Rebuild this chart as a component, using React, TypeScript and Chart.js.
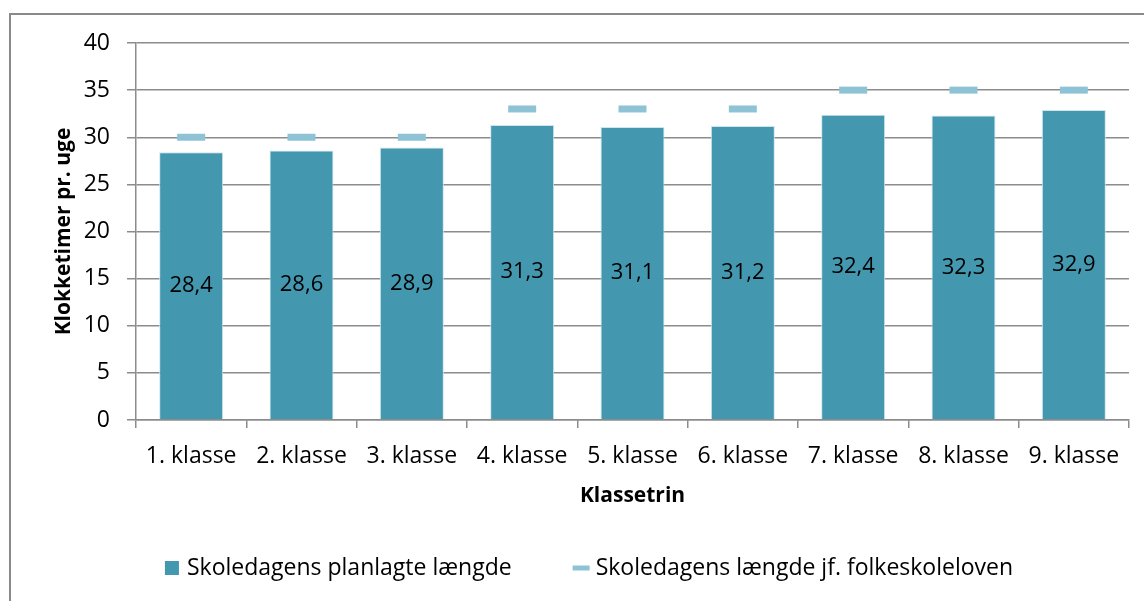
import React, { useEffect, useRef } from "react";
import { Chart, registerables } from "chart.js";

Chart.register(...registerables);

const categories = [
  "1. klasse",
  "2. klasse",
  "3. klasse",
  "4. klasse",
  "5. klasse",
  "6. klasse",
  "7. klasse",
  "8. klasse",
  "9. klasse",
];
const plannedHours = [28.4, 28.6, 28.9, 31.3, 31.1, 31.2, 32.4, 32.3, 32.9];
const legalHours = [30, 30, 30, 33, 33, 33, 35, 35, 35];
const seriesNames = [
  "Skoledagens planlagte længde",
  "Skoledagens længde jf. folkeskoleloven",
];
const yMin = 0;
const yMax = 40;
const yStep = 5;
const xTitle = "Klassetrin";
const yTitle = "Klokketimer pr. uge";

const BAR_COLOR = "#4398B0";
const MARK_COLOR = "#8EC3D6";
const GRID_COLOR = "#8c8c8c";
const FONT = "'Open Sans', sans-serif";
const W = 1144;
const H = 601;
const CANVAS_W = 1150;

const fmt = (v: number) => v.toFixed(1).replace(".", ",");

const barLabelPlugin = {
  id: "barLabels",
  afterDatasetsDraw(chart: any) {
    const ctx = chart.ctx;
    const meta = chart.getDatasetMeta(0);
    const values = chart.data.datasets[0].data as number[];
    ctx.save();
    ctx.font = `22px ${FONT}`;
    ctx.fillStyle = "#000";
    ctx.textAlign = "center";
    ctx.textBaseline = "middle";
    meta.data.forEach((bar: any, i: number) => {
      const { x, y, base } = bar.getProps(["x", "y", "base"], true);
      ctx.fillText(fmt(values[i]), x, (y + base) / 2);
    });
    ctx.restore();
  },
};

const legendPlugin = {
  id: "customLegend",
  afterDraw(chart: any) {
    const ctx = chart.ctx;
    const ds = chart.data.datasets;
    ctx.save();
    ctx.font = `23px ${FONT}`;
    ctx.textBaseline = "middle";
    ctx.textAlign = "left";
    const box = 15;
    const gap = 7;
    const itemGap = 62;
    const widths = ds.map((d: any) => box + gap + ctx.measureText(d.label).width);
    const total = widths.reduce((a: number, b: number) => a + b, 0) + itemGap * (ds.length - 1);
    const centerX = 589;
    const cy = 568;
    let x = centerX - total / 2;
    ds.forEach((d: any, i: number) => {
      if (d.type === "line") {
        ctx.fillStyle = MARK_COLOR;
        ctx.fillRect(x - 1, cy - 2.5, 17, 5);
      } else {
        ctx.fillStyle = BAR_COLOR;
        ctx.fillRect(x, cy - 7, 14, 14);
      }
      ctx.fillStyle = "#000";
      ctx.fillText(d.label, x + box + gap, cy);
      x += widths[i] + itemGap;
    });
    ctx.restore();
  },
};

export default function App() {
  const canvasRef = useRef<HTMLCanvasElement | null>(null);

  useEffect(() => {
    document.body.style.margin = "0";
    const canvas = canvasRef.current;
    if (!canvas) return;
    const chart = new Chart(canvas, {
      data: {
        labels: categories,
        datasets: [
          {
            type: "bar",
            label: seriesNames[0],
            data: plannedHours,
            backgroundColor: BAR_COLOR,
            borderColor: "#cfe5ed",
            borderWidth: 1,
            barPercentage: 0.58,
            categoryPercentage: 1,
            order: 1,
          },
          {
            type: "line",
            label: seriesNames[1],
            data: legalHours,
            showLine: false,
            pointStyle: "line",
            pointRadius: 14,
            pointHoverRadius: 14,
            pointBorderWidth: 7,
            pointHoverBorderWidth: 7,
            borderColor: MARK_COLOR,
            backgroundColor: MARK_COLOR,
            order: 0,
          } as any,
        ],
      },
      options: {
        responsive: false,
        animation: false,
        devicePixelRatio: 1,
        layout: { padding: { top: 43, right: 10, left: 45, bottom: 89 } },
        plugins: {
          legend: { display: false },
          tooltip: { enabled: false },
          title: { display: false },
        },
        scales: {
          x: {
            grid: {
              display: true,
              drawOnChartArea: false,
              drawTicks: true,
              tickLength: 8,
              color: GRID_COLOR,
              lineWidth: 1.5,
            },
            border: { color: GRID_COLOR, width: 1.5 },
            ticks: {
              color: "#000",
              font: { family: FONT, size: 23 },
              padding: 15,
              maxRotation: 0,
            },
            title: {
              display: true,
              text: xTitle,
              color: "#000",
              font: { family: FONT, size: 21, weight: "bold" },
              padding: { top: 0, bottom: 3 },
            },
            afterFit(scale: any) {
              scale.height = 92;
              scale.paddingLeft = 0;
              scale.paddingRight = 0;
            },
          },
          y: {
            min: yMin,
            max: yMax,
            grid: {
              color: GRID_COLOR,
              lineWidth: 1.5,
              tickLength: 9,
            },
            border: { color: GRID_COLOR, width: 1.5 },
            ticks: {
              stepSize: yStep,
              color: "#000",
              font: { family: FONT, size: 23 },
              padding: 17,
            },
            title: {
              display: true,
              text: yTitle,
              color: "#000",
              font: { family: FONT, size: 21, weight: "bold" },
              padding: { top: 6, bottom: 0 },
            },
            afterFit(scale: any) {
              scale.width = 91;
            },
          },
        },
      } as any,
      plugins: [barLabelPlugin, legendPlugin],
    });
    return () => chart.destroy();
  }, []);

  return (
    <div style={{ position: "relative", width: W, height: H, overflow: "hidden", background: "#fff" }}>
      <div
        style={{
          position: "absolute",
          left: 9,
          top: 13,
          width: W + 20,
          height: H + 20,
          borderLeft: "2px solid #8a8a8a",
          borderTop: "2px solid #8a8a8a",
        }}
      />
      <canvas
        ref={canvasRef}
        width={CANVAS_W}
        height={H}
        style={{ position: "absolute", left: 0, top: 0 }}
      />
    </div>
  );
}
